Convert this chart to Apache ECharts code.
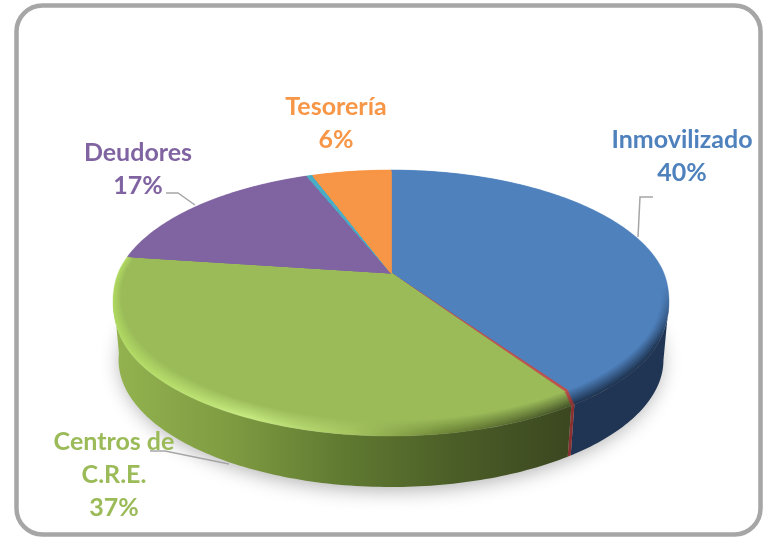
<!DOCTYPE html>
<html><head><meta charset="utf-8">
<style>html,body{margin:0;padding:0;background:#fff}#c{width:764px;height:537px}</style>
<script src="https://cdn.jsdelivr.net/npm/echarts@6/dist/echarts.min.js"></script>
</head><body><div id="c"></div>
<script>
// Data
const categories = ['Inmovilizado', '', 'Centros de\nC.R.E.', 'Deudores', '', 'Tesorería'];
const values = [40.4, 0.2, 36.6, 16.9, 0.4, 5.5];
const colors = ['#4f81bd', '#c0504d', '#9bbb59', '#8064a2', '#4bacc6', '#f79646'];
const wallColors = ['#1f3553', '#8a3030', null, '#4d3a63', '#2a6a7a', '#a05f28'];
const labelAnchors = [[682, 156], null, [114, 475], [138, 169], null, [336, 123]];
const leaders = [
  [[653, 197], [640, 197], [638, 237]],
  [[166, 193], [178, 193], [195, 205]],
  [[150, 451], [165, 451], [229, 464]]
];

// Projection of the round pie onto the page (perspective ellipse)
const CX = 391, CY = 297, RX = 278, RY = 127, APEX = 273, DEPTH = 63, SHRINK = 0.98, RIM = 10, FACE_DROP = 2;
const B = APEX - CY, C = -B / RY, D = RX * Math.sqrt(1 - C * C);
const total = values.reduce((a, b) => a + b, 0);

function project(deg, r) {
  const t = deg * Math.PI / 180, u = r * Math.sin(t), v = r * Math.cos(t), w = 1 + C * v;
  return [D * u / w, (B - RY * v) / w, Math.cos(t)];
}
function rimPoint(deg, t) {
  const p = project(deg, 1 - 0.028 * t);
  let s = Math.min(1, Math.max(0, (0.05 - p[2]) / 0.6));
  s = s * s * (3 - 2 * s);
  return [CX + p[0], CY + p[1] + (FACE_DROP + (1 - t) * RIM) * s];
}
function basePoint(deg) {
  const p = project(deg, 1);
  return [CX + p[0] * SHRINK, CY + p[1] + DEPTH];
}
function arc(a, b, fn) {
  const pts = [], n = Math.max(2, Math.ceil(Math.abs(b - a)));
  for (let i = 0; i <= n; i++) pts.push(fn(a + (b - a) * i / n));
  return pts;
}
function hex(c) { return [1, 3, 5].map(i => parseInt(c.substr(i, 2), 16)); }
function mix(a, b, t) {
  const x = hex(a), y = hex(b);
  return 'rgb(' + x.map((v, i) => Math.round(v + (y[i] - v) * t)).join(',') + ')';
}
function grad(x, y, x2, y2, stops) {
  return new echarts.graphic.LinearGradient(x, y, x2, y2,
    stops.map(s => ({ offset: s[0], color: s[1] })), true);
}
function rimFill(i, t) {
  if (i === 2) {
    const c = colors[2];
    return grad(113, 0, 572, 0, [
      [0, mix('#aed85f', c, t)], [0.3, mix('#c6ea80', c, t)], [0.52, mix('#a6c660', c, t)],
      [0.72, mix('#6f8838', c, t)], [1, mix('#46562a', c, t)]]);
  }
  if (i === 0 || i === 1) {
    return grad(0, 285, 0, 345, [[0, colors[i]], [1, mix(wallColors[i], colors[i], t)]]);
  }
  return colors[i];
}
function wallFill(i) {
  if (i === 2) return grad(113, 0, 572, 0, [
    [0, '#93b34f'], [0.25, '#7f9c42'], [0.5, '#607a31'], [0.75, '#4b5d27'], [1, '#3b4720']]);
  return wallColors[i];
}

function renderItem(params, api) {
  const i = params.dataIndex;
  let sum = 0;
  for (let k = 0; k < i; k++) sum += values[k];
  const a0 = sum / total * 360, a1 = (sum + api.value(1)) / total * 360;
  const kids = [];
  // visible outer wall: only the front of the disc
  const w0 = Math.max(a0, 101), w1 = Math.min(a1, 262);
  if (w1 > w0) {
    const pts = arc(w0, w1, d => rimPoint(d, 0)).concat(arc(w1, w0, basePoint));
    kids.push({ type: 'polygon', shape: { points: pts }, style: { fill: wallFill(i), stroke: null } });
  }
  // bevel rings and face
  const N = 8;
  for (let k = 0; k <= N; k++) {
    const t = k / N, fill = k === N ? colors[i] : rimFill(i, t);
    const pts = [[CX, APEX]].concat(arc(a0, a1, d => rimPoint(d, t)));
    kids.push({ type: 'polygon', shape: { points: pts },
      style: { fill: fill, stroke: fill, lineWidth: 0.4 } });
  }
  return { type: 'group', children: kids };
}

const graphics = [
  { type: 'rect', z: 0, shape: { x: 16.5, y: 5.5, width: 744, height: 529, r: 26 },
    style: { fill: '#fff', stroke: '#a6a6a6', lineWidth: 4.5 } },
  { type: 'ellipse', z: 1, shape: { cx: CX, cy: CY + DEPTH - 4, rx: RX * SHRINK - 2, ry: RY + 2 },
    style: { fill: '#bbb', shadowBlur: 20, shadowColor: 'rgba(0,0,0,0.32)', shadowOffsetY: 5 } }
];
leaders.forEach(p => graphics.push({ type: 'polyline', z: 5, shape: { points: p },
  style: { fill: null, stroke: '#a6a6a6', lineWidth: 1.5 } }));
categories.forEach((name, i) => {
  if (!labelAnchors[i]) return;
  graphics.push({ type: 'text', z: 6, style: {
    text: name + '\n' + Math.round(values[i] / total * 100) + '%',
    x: labelAnchors[i][0], y: labelAnchors[i][1], align: 'center', verticalAlign: 'middle',
    font: 'bold 25px Lato', lineHeight: 33, fill: colors[i] } });
});

const chart = echarts.init(document.getElementById('c'), null, { renderer: 'canvas' });
chart.setOption({
  animation: false,
  graphic: graphics,
  series: [{ type: 'custom', coordinateSystem: 'none', z: 3, silent: true,
    renderItem: renderItem, data: values.map((v, i) => [i, v]) }]
});
</script></body></html>
